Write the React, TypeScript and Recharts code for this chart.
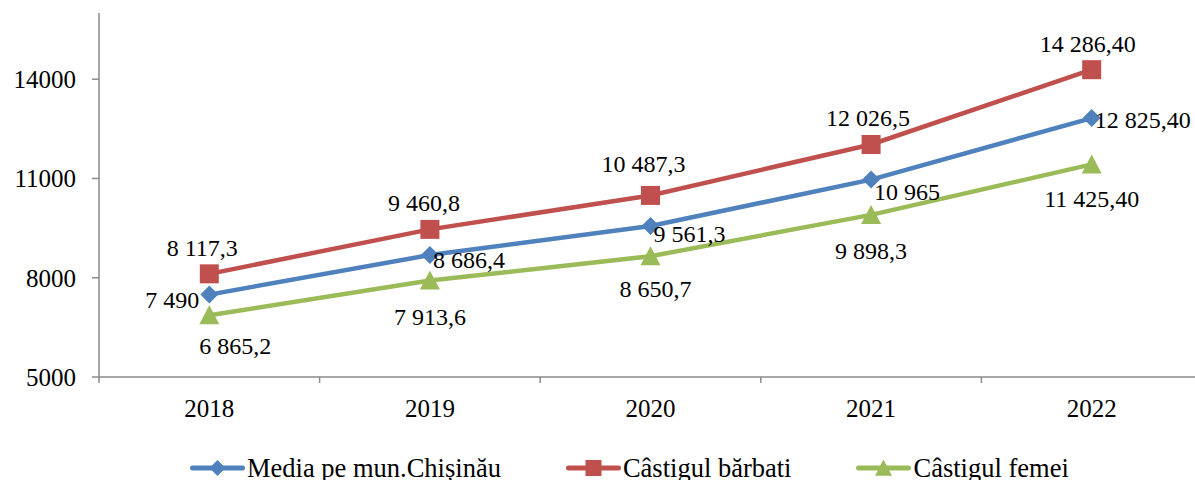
import React from "react";
import { LineChart, Line, XAxis, YAxis, Legend, LabelList } from "recharts";

const years = ["2018", "2019", "2020", "2021", "2022"];
const mediaValues = [7490, 8686.4, 9561.3, 10965, 12825.4];
const barbatiValues = [8117.3, 9460.8, 10487.3, 12026.5, 14286.4];
const femeiValues = [6865.2, 7913.6, 8650.7, 9898.3, 11425.4];
const mediaLabels = ["7 490", "8 686,4", "9 561,3", "10 965", "12 825,40"];
const barbatiLabels = ["8 117,3", "9 460,8", "10 487,3", "12 026,5", "14 286,40"];
const femeiLabels = ["6 865,2", "7 913,6", "8 650,7", "9 898,3", "11 425,40"];
const yTicks = [5000, 8000, 11000, 14000];

const BLUE = "#4F81BD";
const RED = "#C0504D";
const GREEN = "#9BBB59";
const AXIS = "#8a8a8a";
const FONT = "'Liberation Serif', 'Times New Roman', serif";

const data = years.map((year, i) => ({
  year,
  media: mediaValues[i],
  barbati: barbatiValues[i],
  femei: femeiValues[i],
  mediaLabel: mediaLabels[i],
  barbatiLabel: barbatiLabels[i],
  femeiLabel: femeiLabels[i],
}));

// label nudges [dx, dy] per point, as placed in the original
const mediaNudge = [[-10, 13], [3, 13], [3, 16], [3, 20], [3, 10]];
const barbatiNudge = [[-7, -18], [-6, -18], [-7, -23], [-3, -18], [-4, -18]];
const femeiNudge = [[26, 39], [0, 44], [5, 41], [0, 44], [0, 43]];

const diamond = (cx: number, cy: number, r: number) =>
  `${cx},${cy - r} ${cx + r},${cy} ${cx},${cy + r} ${cx - r},${cy}`;
const triangle = (cx: number, cy: number, r: number) =>
  `${cx},${cy - r} ${cx + r},${cy + r * 0.9} ${cx - r},${cy + r * 0.9}`;

const DiamondDot = (props: any) => {
  const { cx, cy, index } = props;
  return <polygon key={`d-${index}`} points={diamond(cx, cy, 9)} fill={BLUE} />;
};
const SquareDot = (props: any) => {
  const { cx, cy, index } = props;
  return <rect key={`s-${index}`} x={cx - 9.5} y={cy - 9.5} width={19} height={19} fill={RED} />;
};
const TriangleDot = (props: any) => {
  const { cx, cy, index } = props;
  return <polygon key={`t-${index}`} points={triangle(cx, cy, 10)} fill={GREEN} />;
};

const makeLabel = (labels: string[], nudge: number[][], anchorFirst?: string) => (props: any) => {
  const vb = props.viewBox || {};
  const x = props.x ?? vb.x;
  const y = props.y ?? vb.y;
  const idx = labels.indexOf(String(props.value));
  const [dx, dy] = nudge[idx] || [0, 0];
  let anchor = "middle";
  if (labels === mediaLabels) anchor = idx === 0 ? anchorFirst || "end" : "start";
  return (
    <text
      key={`l-${idx}`}
      x={x + dx}
      y={y + dy}
      textAnchor={anchor}
      fontSize={24}
      fontFamily={FONT}
      fill="#000"
    >
      {props.value}
    </text>
  );
};

const YearTick = (props: any) => {
  const { x, y, payload, width } = props;
  const half = width / (years.length * 2);
  return (
    <g>
      <line x1={x - half} x2={x - half} y1={y} y2={y + 6} stroke={AXIS} strokeWidth={1.5} />
      <text x={x} y={y + 40} textAnchor="middle" fontSize={25} fontFamily={FONT} fill="#000">
        {payload.value}
      </text>
    </g>
  );
};

const legendItems = [
  { name: "Media pe mun.Chișinău", color: BLUE, shape: "diamond" },
  { name: "Câstigul bărbati", color: RED, shape: "square" },
  { name: "Câstigul femei", color: GREEN, shape: "triangle" },
];

const LegendIcon = ({ color, shape }: { color: string; shape: string }) => (
  <svg width={55} height={20} style={{ display: "block" }}>
    <line x1={2.5} x2={52.5} y1={10} y2={10} stroke={color} strokeWidth={5} strokeLinecap="round" />
    {shape === "diamond" && <polygon points={diamond(27.5, 10, 8)} fill={color} />}
    {shape === "square" && <rect x={19.5} y={2} width={16} height={16} fill={color} />}
    {shape === "triangle" && <polygon points={triangle(27.5, 10, 8.5)} fill={color} />}
  </svg>
);

const renderLegend = () => (
  <div
    style={{
      height: 30,
      display: "flex",
      alignItems: "center",
      paddingLeft: 190,
      fontFamily: FONT,
      fontSize: 26.5,
      color: "#000",
      whiteSpace: "nowrap",
    }}
  >
    {legendItems.map((item, i) => (
      <div
        key={item.name}
        style={{ display: "flex", alignItems: "center", marginRight: i < 2 ? 65 : 0 }}
      >
        <LegendIcon color={item.color} shape={item.shape} />
        <span style={{ marginLeft: 2, lineHeight: "30px" }}>{item.name}</span>
      </div>
    ))}
  </div>
);

export default function App() {
  return (
    <div
      style={{
        position: "absolute",
        top: 0,
        left: 0,
        width: 1195,
        height: 480,
        overflow: "hidden",
        background: "#fff",
      }}
    >
      <LineChart width={1202} height={480} data={data} margin={{ top: 13, right: 0, bottom: 0, left: 0 }}>
        <XAxis
          dataKey="year"
          scale="band"
          height={73}
          stroke={AXIS}
          strokeWidth={1.5}
          tickLine={false}
          tickSize={0}
          tickMargin={0}
          tick={<YearTick />}
        />
        <YAxis
          domain={[5000, 16000]}
          ticks={yTicks}
          width={99}
          stroke={AXIS}
          strokeWidth={1.5}
          tickSize={7}
          tickMargin={16}
          tick={{ fontSize: 25, fill: "#000", fontFamily: FONT }}
          allowDataOverflow
        />
        <Legend
          verticalAlign="bottom"
          align="left"
          content={renderLegend}
          wrapperStyle={{ bottom: -3, left: 0 }}
        />
        <Line
          dataKey="media"
          name="Media pe mun.Chișinău"
          stroke={BLUE}
          strokeWidth={4.5}
          dot={DiamondDot}
          activeDot={false}
          isAnimationActive={false}
        >
          <LabelList dataKey="mediaLabel" content={makeLabel(mediaLabels, mediaNudge)} />
        </Line>
        <Line
          dataKey="barbati"
          name="Câstigul bărbati"
          stroke={RED}
          strokeWidth={4.5}
          dot={SquareDot}
          activeDot={false}
          isAnimationActive={false}
        >
          <LabelList dataKey="barbatiLabel" content={makeLabel(barbatiLabels, barbatiNudge)} />
        </Line>
        <Line
          dataKey="femei"
          name="Câstigul femei"
          stroke={GREEN}
          strokeWidth={4.5}
          dot={TriangleDot}
          activeDot={false}
          isAnimationActive={false}
        >
          <LabelList dataKey="femeiLabel" content={makeLabel(femeiLabels, femeiNudge)} />
        </Line>
      </LineChart>
    </div>
  );
}
